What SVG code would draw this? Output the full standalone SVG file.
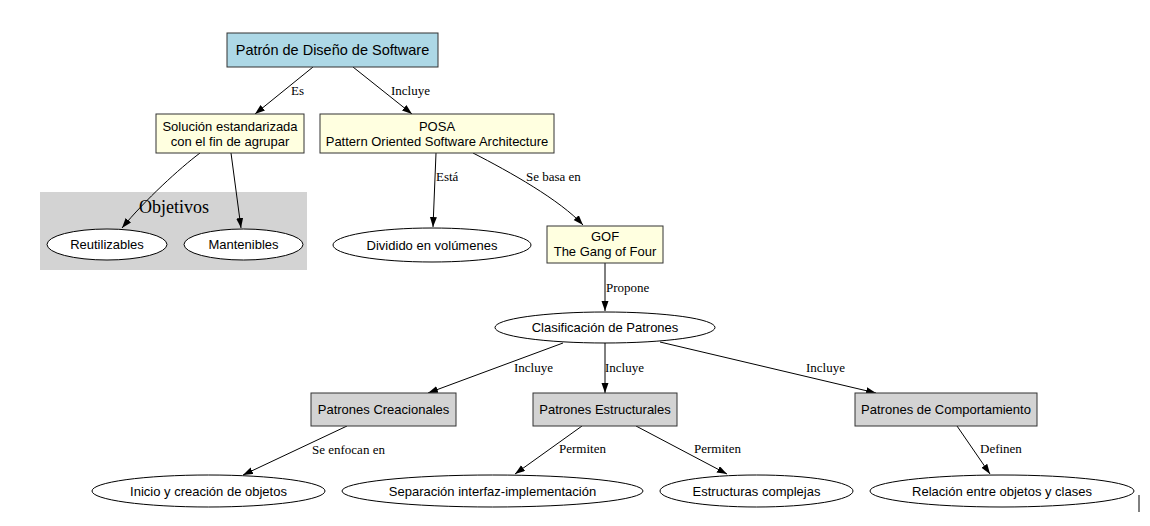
<svg xmlns="http://www.w3.org/2000/svg" width="1150" height="526" viewBox="0 0 1150 526">
<style>
  .box { stroke: #333; stroke-width: 1; }
  .blue { fill: #ADD8E6; }
  .yellow { fill: #FFFFE0; }
  .gray { fill: #D3D3D3; }
  .ell { fill: #FFFFFF; stroke: #000; stroke-width: 1; }
  .nt { font-family: "Liberation Sans", Arial, sans-serif; font-size: 13px; fill: #000; text-anchor: middle; }
  .et { font-family: "Liberation Serif", "Times New Roman", serif; font-size: 13px; fill: #000; }
  .edge { fill: none; stroke: #000; stroke-width: 1; marker-end: url(#arrow); }
</style>
<defs>
  <marker id="arrow" markerUnits="userSpaceOnUse" markerWidth="10" markerHeight="8" refX="10" refY="3.5" orient="auto">
    <path d="M0,0 L10,3.5 L0,7 z" fill="#000"/>
  </marker>
</defs>
<rect width="1150" height="526" fill="#FFFFFF"/>

<g id="cluster-objetivos">
  <rect x="40" y="192" width="267" height="78" fill="#D3D3D3"/>
  <text x="174" y="213" text-anchor="middle" font-family="'Liberation Serif', 'Times New Roman', serif" font-size="18px">Objetivos</text>
</g>

<g id="connectors">
  <path class="edge" d="M313,67 L255,114"/>
  <text class="et" x="291" y="95">Es</text>
  <path class="edge" d="M353,67 L412,114"/>
  <text class="et" x="391" y="95">Incluye</text>
  <path class="edge" d="M200,153 C180,168 145,200 122,228"/>
  <path class="edge" d="M231,153 L241,228"/>
  <path class="edge" d="M436,153 L433,227"/>
  <text class="et" x="436" y="181">Está</text>
  <path class="edge" d="M473,153 C510,172 560,200 583,225"/>
  <text class="et" x="526" y="181">Se basa en</text>
  <path class="edge" d="M605,263 L605,311"/>
  <text class="et" x="606" y="292">Propone</text>
  <path class="edge" d="M563,343 L428,393"/>
  <text class="et" x="514" y="372">Incluye</text>
  <path class="edge" d="M605,343 L605,393"/>
  <text class="et" x="605" y="372">Incluye</text>
  <path class="edge" d="M660,342 L876,393"/>
  <text class="et" x="806" y="372">Incluye</text>
  <path class="edge" d="M347,426 L243,475"/>
  <text class="et" x="312" y="454">Se enfocan en</text>
  <path class="edge" d="M582,426 L515,474"/>
  <text class="et" x="559" y="453">Permiten</text>
  <path class="edge" d="M636,426 L727,474"/>
  <text class="et" x="694" y="453">Permiten</text>
  <path class="edge" d="M957,426 L990,474"/>
  <text class="et" x="980" y="453">Definen</text>
</g>

<g id="node-patron">
  <rect class="box blue" x="227" y="33" width="211" height="34"/>
  <text class="nt" x="332.5" y="55" style="font-size:14.5px">Patrón de Diseño de Software</text>
</g>
<g id="node-solucion">
  <rect class="box yellow" x="156" y="114" width="148" height="39"/>
  <text class="nt" x="230" y="130.5">Solución estandarizada</text>
  <text class="nt" x="230" y="145.5">con el fin de agrupar</text>
</g>
<g id="node-posa">
  <rect class="box yellow" x="320" y="114" width="234" height="39"/>
  <text class="nt" x="437" y="130.5">POSA</text>
  <text class="nt" x="437" y="145.5">Pattern Oriented Software Architecture</text>
</g>
<g id="node-reutilizables">
  <ellipse class="ell" cx="107" cy="244.5" rx="60" ry="15.5"/>
  <text class="nt" x="107" y="249">Reutilizables</text>
</g>
<g id="node-mantenibles">
  <ellipse class="ell" cx="243.5" cy="244.5" rx="59.5" ry="15.5"/>
  <text class="nt" x="243.5" y="249">Mantenibles</text>
</g>
<g id="node-dividido">
  <ellipse class="ell" cx="432" cy="245" rx="99" ry="17"/>
  <text class="nt" x="432" y="249.5">Dividido en volúmenes</text>
</g>
<g id="node-gof">
  <rect class="box yellow" x="547" y="226" width="116" height="37"/>
  <text class="nt" x="605" y="241">GOF</text>
  <text class="nt" x="605" y="256">The Gang of Four</text>
</g>
<g id="node-clasificacion">
  <ellipse class="ell" cx="605" cy="327.5" rx="110" ry="15.5"/>
  <text class="nt" x="605" y="332">Clasificación de Patrones</text>
</g>
<g id="node-creacionales">
  <rect class="box gray" x="311" y="393" width="145" height="33"/>
  <text class="nt" x="383.5" y="414">Patrones Creacionales</text>
</g>
<g id="node-estructurales">
  <rect class="box gray" x="533" y="393" width="144" height="33"/>
  <text class="nt" x="605" y="414">Patrones Estructurales</text>
</g>
<g id="node-comportamiento">
  <rect class="box gray" x="855" y="393" width="182" height="33"/>
  <text class="nt" x="946" y="414">Patrones de Comportamiento</text>
</g>
<g id="node-inicio">
  <ellipse class="ell" cx="208.5" cy="491" rx="116.5" ry="16"/>
  <text class="nt" x="208.5" y="495.5">Inicio y creación de objetos</text>
</g>
<g id="node-separacion">
  <ellipse class="ell" cx="492.5" cy="491" rx="150.5" ry="16"/>
  <text class="nt" x="492.5" y="495.5">Separación interfaz-implementación</text>
</g>
<g id="node-estructuras">
  <ellipse class="ell" cx="756.5" cy="491" rx="96.5" ry="16"/>
  <text class="nt" x="756.5" y="495.5">Estructuras complejas</text>
</g>
<g id="node-relacion">
  <ellipse class="ell" cx="1002" cy="491" rx="132" ry="16"/>
  <text class="nt" x="1002" y="495.5">Relación entre objetos y clases</text>
</g>
<line x1="1139" y1="495" x2="1139" y2="512" stroke="#000" stroke-width="1"/>
</svg>
